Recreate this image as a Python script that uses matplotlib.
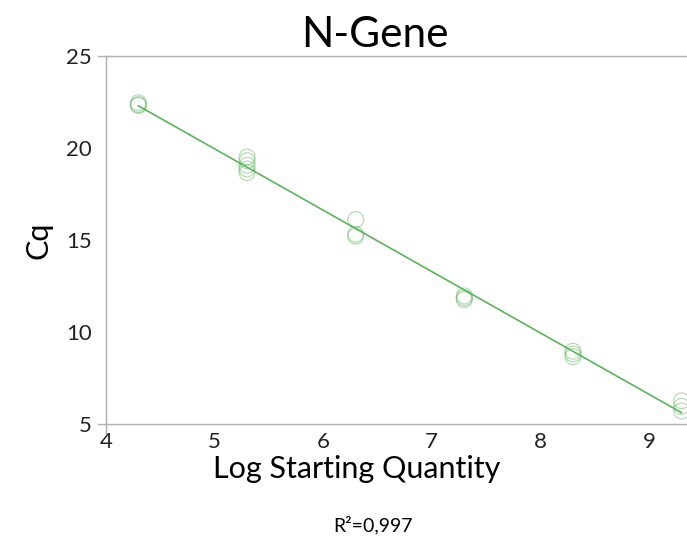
import numpy as np
import matplotlib.pyplot as plt
from matplotlib.lines import Line2D

plt.rcParams['font.family'] = ['Lato', 'DejaVu Sans']

# log10 of starting quantity and Cq replicates for each dilution
log_qty = [4.3, 4.3, 4.3,
           5.3, 5.3, 5.3, 5.3, 5.3,
           6.3, 6.3, 6.3,
           7.3, 7.3, 7.3,
           8.3, 8.3, 8.3,
           9.3, 9.3, 9.3]
cq = [22.45, 22.35, 22.3,
      19.5, 19.3, 19.05, 18.85, 18.65,
      16.1, 15.3, 15.2,
      11.95, 11.85, 11.75,
      8.95, 8.8, 8.65,
      6.25, 5.95, 5.7]

r2_label = "R²=0,997"
x_ticks = [4, 5, 6, 7, 8, 9]
y_ticks = [5, 10, 15, 20, 25]

line_green = "#5cb35c"
grid_gray = "#b0b0b0"

fig = plt.figure(figsize=(6.87, 5.42), dpi=100)
ax = fig.add_axes([0.154, 0.218, 0.846, 0.679])

x = np.array(log_qty)
y = np.array(cq)
slope, intercept = np.polyfit(x, y, 1)
xs = np.array([x.min(), x.max()])
ax.plot(xs, slope * xs + intercept, color=line_green, lw=1.2, zorder=2)

ax.scatter(x, y, s=130, facecolors="none", edgecolors=line_green,
           linewidths=0.9, alpha=0.45, zorder=3, clip_on=False)

ax.set_xlim(4, 9.35)
ax.set_ylim(5, 25)
ax.set_xticks(x_ticks)
ax.set_yticks(y_ticks)

for side in ["top", "bottom", "left"]:
    ax.spines[side].set_color(grid_gray)
    ax.spines[side].set_linewidth(1.0)
ax.spines["right"].set_visible(False)

ax.tick_params(axis="both", which="major", length=0, labelsize=16,
               colors="#222222")
ax.tick_params(axis="x", pad=6)
ax.tick_params(axis="y", pad=10)

# short outward stubs at the axis corners
stub = dict(color=grid_gray, lw=1.0, clip_on=False,
            transform=ax.transAxes)
ax.add_line(Line2D([-0.014, 0], [1, 1], **stub))
ax.add_line(Line2D([-0.014, 0], [0, 0], **stub))
ax.add_line(Line2D([0, 0], [0, -0.024], **stub))

ax.set_title("N-Gene", fontsize=30.5, pad=6, x=0.463)
ax.set_xlabel("Log Starting Quantity", fontsize=22, labelpad=2, x=0.432)
ax.set_ylabel("Cq", fontsize=22, labelpad=10)

fig.text(0.543, 0.031, r2_label, ha="center", va="center", fontsize=14)

fig.savefig("out.png", dpi=100)
